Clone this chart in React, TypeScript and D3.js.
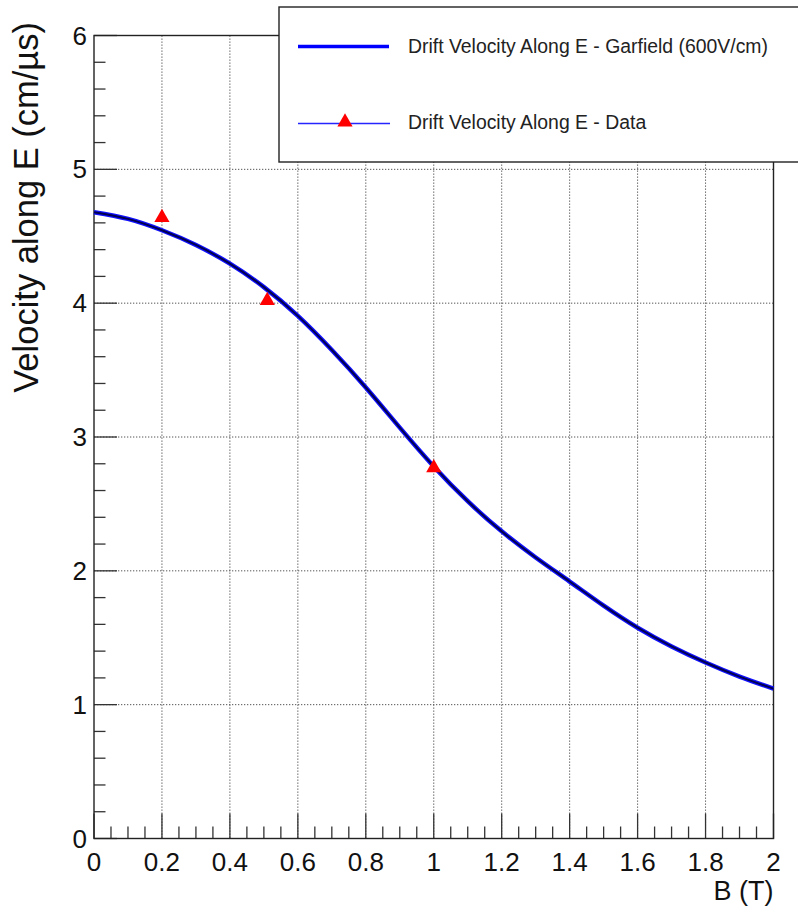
import React, { useEffect, useRef } from "react";
import * as d3 from "d3";

// garfield simulation curve, B (T) vs drift velocity along E (cm/us)
const simB = [0, 0.1, 0.2, 0.3, 0.4, 0.5, 0.6, 0.7, 0.8, 0.9, 1.0, 1.1, 1.2, 1.3, 1.4, 1.5, 1.6, 1.7, 1.8, 1.9, 2.0];
const simV = [4.68, 4.63, 4.545, 4.435, 4.295, 4.12, 3.905, 3.65, 3.37, 3.07, 2.78, 2.52, 2.295, 2.1, 1.92, 1.74, 1.575, 1.435, 1.315, 1.21, 1.12];

// measured points
const dataB = [0.2, 0.51, 1.0];
const dataV = [4.64, 4.02, 2.77];

const xTicks = [0, 0.2, 0.4, 0.6, 0.8, 1, 1.2, 1.4, 1.6, 1.8, 2];
const yTicks = [0, 1, 2, 3, 4, 5, 6];

const legendLabels = [
  "Drift Velocity Along E - Garfield (600V/cm)",
  "Drift Velocity Along E - Data",
];

const W = 798;
const H = 909;
const FONT = "'Liberation Sans', Arial, Helvetica, sans-serif";

const App = () => {
  const svgRef = useRef<SVGSVGElement>(null);

  useEffect(() => {
    const svg = d3.select(svgRef.current);
    svg.selectAll("*").remove();

    const left = 94, right = 773.5, top = 35.5, bottom = 838.5;

    const x = d3.scaleLinear().domain([0, 2]).range([left, right]);
    const y = d3.scaleLinear().domain([0, 6]).range([bottom, top]);

    // grid
    const grid = svg.append("g");
    grid
      .selectAll(".gx")
      .data(xTicks.slice(1, -1))
      .join("line")
      .attr("x1", d => x(d))
      .attr("x2", d => x(d))
      .attr("y1", top)
      .attr("y2", bottom)
      .attr("stroke", "#555")
      .attr("stroke-dasharray", "1.3,1.7");
    grid
      .selectAll(".gy")
      .data(yTicks.slice(1, -1))
      .join("line")
      .attr("x1", left)
      .attr("x2", right)
      .attr("y1", d => y(d))
      .attr("y2", d => y(d))
      .attr("stroke", "#555")
      .attr("stroke-dasharray", "1.3,1.7");

    // ticks (ROOT style, inward)
    const ax = svg.append("g").attr("stroke", "#333").attr("stroke-width", 1.3);
    const xMinor = d3.range(0, 2.0001, 0.05);
    ax.selectAll(".tx")
      .data(xMinor)
      .join("line")
      .attr("x1", d => x(d))
      .attr("x2", d => x(d))
      .attr("y1", bottom)
      .attr("y2", (d, i) => bottom - (i % 4 === 0 ? 25 : 12));
    const yMinor = d3.range(0, 6.0001, 0.2);
    ax.selectAll(".ty")
      .data(yMinor)
      .join("line")
      .attr("x1", left)
      .attr("x2", (d, i) => left + (i % 5 === 0 ? 23 : 11.5))
      .attr("y1", d => y(d))
      .attr("y2", d => y(d));

    // frame
    svg
      .append("rect")
      .attr("x", left)
      .attr("y", top)
      .attr("width", right - left)
      .attr("height", bottom - top)
      .attr("fill", "none")
      .attr("stroke", "#222")
      .attr("stroke-width", 1.4);

    // tick labels
    svg
      .append("g")
      .selectAll("text")
      .data(xTicks)
      .join("text")
      .attr("x", d => x(d))
      .attr("y", 871)
      .attr("text-anchor", "middle")
      .attr("font-family", FONT)
      .attr("font-size", 26)
      .attr("fill", "#111")
      .text(d => String(d));
    svg
      .append("g")
      .selectAll("text")
      .data(yTicks)
      .join("text")
      .attr("x", 87)
      .attr("y", d => y(d) + 9)
      .attr("text-anchor", "end")
      .attr("font-family", FONT)
      .attr("font-size", 26)
      .attr("fill", "#111")
      .text(d => String(d));

    // axis titles
    svg
      .append("text")
      .attr("x", right)
      .attr("y", 900)
      .attr("text-anchor", "end")
      .attr("font-family", FONT)
      .attr("font-size", 27)
      .attr("fill", "#111")
      .text("B (T)");
    svg
      .append("text")
      .attr("transform", `translate(38,${22}) rotate(-90)`)
      .attr("text-anchor", "end")
      .attr("font-family", FONT)
      .attr("font-size", 34.5)
      .attr("fill", "#111")
      .text("Velocity along E (cm/\u00b5s)");

    // simulation curve
    const pts: [number, number][] = simB.map((b, i) => [b, simV[i]]);
    const curve = d3
      .line<[number, number]>()
      .x(d => x(d[0]))
      .y(d => y(d[1]))
      .curve(d3.curveNatural);
    svg
      .append("path")
      .attr("d", curve(pts))
      .attr("fill", "none")
      .attr("stroke", "#1010ff")
      .attr("stroke-width", 4.5);
    svg
      .append("path")
      .attr("d", curve(pts))
      .attr("fill", "none")
      .attr("stroke", "#000050")
      .attr("stroke-width", 2);

    // data triangles
    const tri = d3.symbol().type(d3.symbolTriangle).size(100);
    svg
      .append("g")
      .selectAll("path")
      .data(dataB)
      .join("path")
      .attr("transform", (d, i) => `translate(${x(d)},${y(dataV[i])})`)
      .attr("d", tri())
      .attr("fill", "#ff0000");

    // legend
    const lg = svg.append("g");
    lg.append("rect")
      .attr("x", 279)
      .attr("y", 7)
      .attr("width", 530)
      .attr("height", 155)
      .attr("fill", "#fff")
      .attr("stroke", "#222")
      .attr("stroke-width", 1.4);
    lg.append("line")
      .attr("x1", 298)
      .attr("x2", 389)
      .attr("y1", 46.5)
      .attr("y2", 46.5)
      .attr("stroke", "#0000ff")
      .attr("stroke-width", 3.5);
    lg.append("line")
      .attr("x1", 298)
      .attr("x2", 390)
      .attr("y1", 123.5)
      .attr("y2", 123.5)
      .attr("stroke", "#2525ff")
      .attr("stroke-width", 1.4);
    lg.append("path")
      .attr("transform", "translate(345,122)")
      .attr("d", tri())
      .attr("fill", "#ff0000");
    lg.selectAll("text")
      .data(legendLabels)
      .join("text")
      .attr("x", 408)
      .attr("y", (d, i) => (i === 0 ? 52.5 : 129))
      .attr("font-family", FONT)
      .attr("font-size", 19.4)
      .attr("fill", "#222")
      .text(d => d);
  }, []);

  return (
    <div style={{ position: "absolute", left: 0, top: 0 }}>
      <svg ref={svgRef} width={W} height={H} style={{ display: "block", background: "#fff" }} />
    </div>
  );
};

export default App;
